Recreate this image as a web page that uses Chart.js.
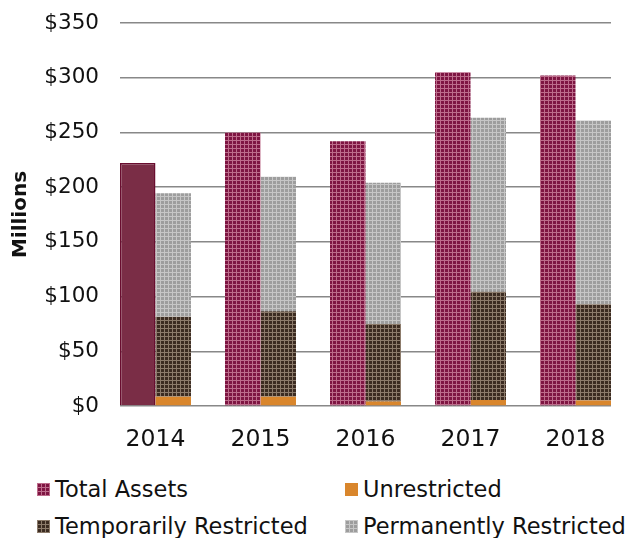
<!DOCTYPE html>
<html>
<head>
<meta charset="utf-8">
<script src="https://cdn.jsdelivr.net/npm/chart.js@4/dist/chart.umd.min.js"></script>
<style>
  html, body { margin: 0; padding: 0; background: #fff; }
  #wrap { position: relative; width: 634px; height: 538px; overflow: hidden; }
  #c { position: absolute; left: 0; top: 0; }
  .lg { position: absolute; display: flex; align-items: center; font-family: "DejaVu Sans", sans-serif; font-size: 22.5px; color: #111; white-space: nowrap; }
  .lg canvas { margin-right: 5px; }
</style>
</head>
<body>
<div id="wrap">
  <canvas id="c" width="634" height="460"></canvas>
  <div class="lg" style="left:37px; top:476px;"><canvas id="sw0" width="13" height="13"></canvas><span>Total Assets</span></div>
  <div class="lg" style="left:345px; top:476px;"><canvas id="sw1" width="13" height="13"></canvas><span>Unrestricted</span></div>
  <div class="lg" style="left:37px; top:513px;"><canvas id="sw2" width="13" height="13"></canvas><span>Temporarily Restricted</span></div>
  <div class="lg" style="left:345px; top:513px;"><canvas id="sw3" width="13" height="13"></canvas><span>Permanently Restricted</span></div>
</div>
<script>
// ---- data ----
const categories = ["2014", "2015", "2016", "2017", "2018"];
const totalAssets = [222, 250, 242, 305, 302];
const unrestricted = [8.5, 8.5, 4, 5.5, 5];
const temporarilyRestricted = [73, 78, 71, 99, 88];
const permanentlyRestricted = [113, 123, 129, 159, 168];
const yTicks = [0, 50, 100, 150, 200, 250, 300, 350];
const seriesNames = ["Total Assets", "Unrestricted", "Temporarily Restricted", "Permanently Restricted"];

// ---- patterns ----
function makeTile(base, light) {
  const t = document.createElement('canvas');
  t.width = 4; t.height = 4;
  const g = t.getContext('2d');
  g.fillStyle = base; g.fillRect(0, 0, 4, 4);
  g.fillStyle = light;
  g.fillRect(0, 0, 4, 1);
  g.fillRect(0, 0, 1, 4);
  return t;
}
const ctx = document.getElementById('c').getContext('2d');
const tiles = {
  total: makeTile('#7e1542', '#bd6c8b'),
  temp: makeTile('#3b2b21', '#8c7b6b'),
  perm: makeTile('#9d9d9d', '#c6c6c6')
};
const pat = k => ctx.createPattern(tiles[k], 'repeat');
const solid2014 = '#7a2d46';
const orange = '#d9862c';

const totalFill = categories.map((c, i) => i === 0 ? solid2014 : pat('total'));
const totalBorder = categories.map((c, i) => i === 0 ? 1.5 : 0);

const pts = arr => categories.map((c, i) => ({ x: +c, y: arr[i] }));

new Chart(ctx, {
  type: 'bar',
  data: {
    datasets: [
      { label: seriesNames[0], data: pts(totalAssets), backgroundColor: totalFill, borderColor: '#690d2f', borderWidth: totalBorder, stack: 'total' },
      { label: seriesNames[1], data: pts(unrestricted), backgroundColor: orange, borderWidth: 0, stack: 'parts' },
      { label: seriesNames[2], data: pts(temporarilyRestricted), backgroundColor: pat('temp'), borderWidth: 0, stack: 'parts' },
      { label: seriesNames[3], data: pts(permanentlyRestricted), backgroundColor: pat('perm'), borderWidth: 0, stack: 'parts' }
    ]
  },
  options: {
    responsive: false,
    animation: false,
    categoryPercentage: 0.676,
    barPercentage: 1,
    layout: { padding: { left: 0, right: 23, top: 23, bottom: 0 } },
    plugins: { legend: { display: false }, tooltip: { enabled: false } },
    scales: {
      x: {
        type: 'linear',
        offset: false,
        stacked: true,
        min: +categories[0] - 0.338,
        max: +categories[categories.length - 1] + 0.338,
        afterBuildTicks: s => { s.ticks = categories.map(c => ({ value: +c })); },
        afterFit: s => { s.height = 54; s.paddingLeft = 0; s.paddingRight = 0; },
        grid: { display: false, drawTicks: false },
        border: { display: false },
        ticks: {
          callback: v => String(v),
          font: { family: 'DejaVu Sans', size: 23.5 },
          color: '#111',
          padding: 20,
          maxRotation: 0,
          autoSkip: false
        }
      },
      y: {
        stacked: true,
        min: 0,
        max: 350,
        z: 1,
        afterBuildTicks: s => { s.ticks = yTicks.map(v => ({ value: v })); },
        afterFit: s => { s.width = 120; s.paddingTop = 0; s.paddingBottom = 0; },
        grid: { color: 'rgba(90,90,90,0.72)', lineWidth: 1.5, drawTicks: false },
        border: { display: false },
        ticks: {
          callback: v => '$' + v,
          font: { family: 'DejaVu Sans', size: 21.5 },
          color: '#111',
          padding: 21
        },
        title: {
          display: true,
          text: 'Millions',
          font: { family: 'DejaVu Sans', size: 20, weight: 'bold' },
          color: '#111',
          padding: { top: 9, bottom: 0 }
        }
      }
    }
  }
});

// legend swatches
const swFills = [tiles.total, orange, tiles.temp, tiles.perm];
swFills.forEach((f, i) => {
  const g = document.getElementById('sw' + i).getContext('2d');
  g.fillStyle = (typeof f === 'string') ? f : g.createPattern(f, 'repeat');
  g.fillRect(0, 0, 13, 13);
});
</script>
</body>
</html>
